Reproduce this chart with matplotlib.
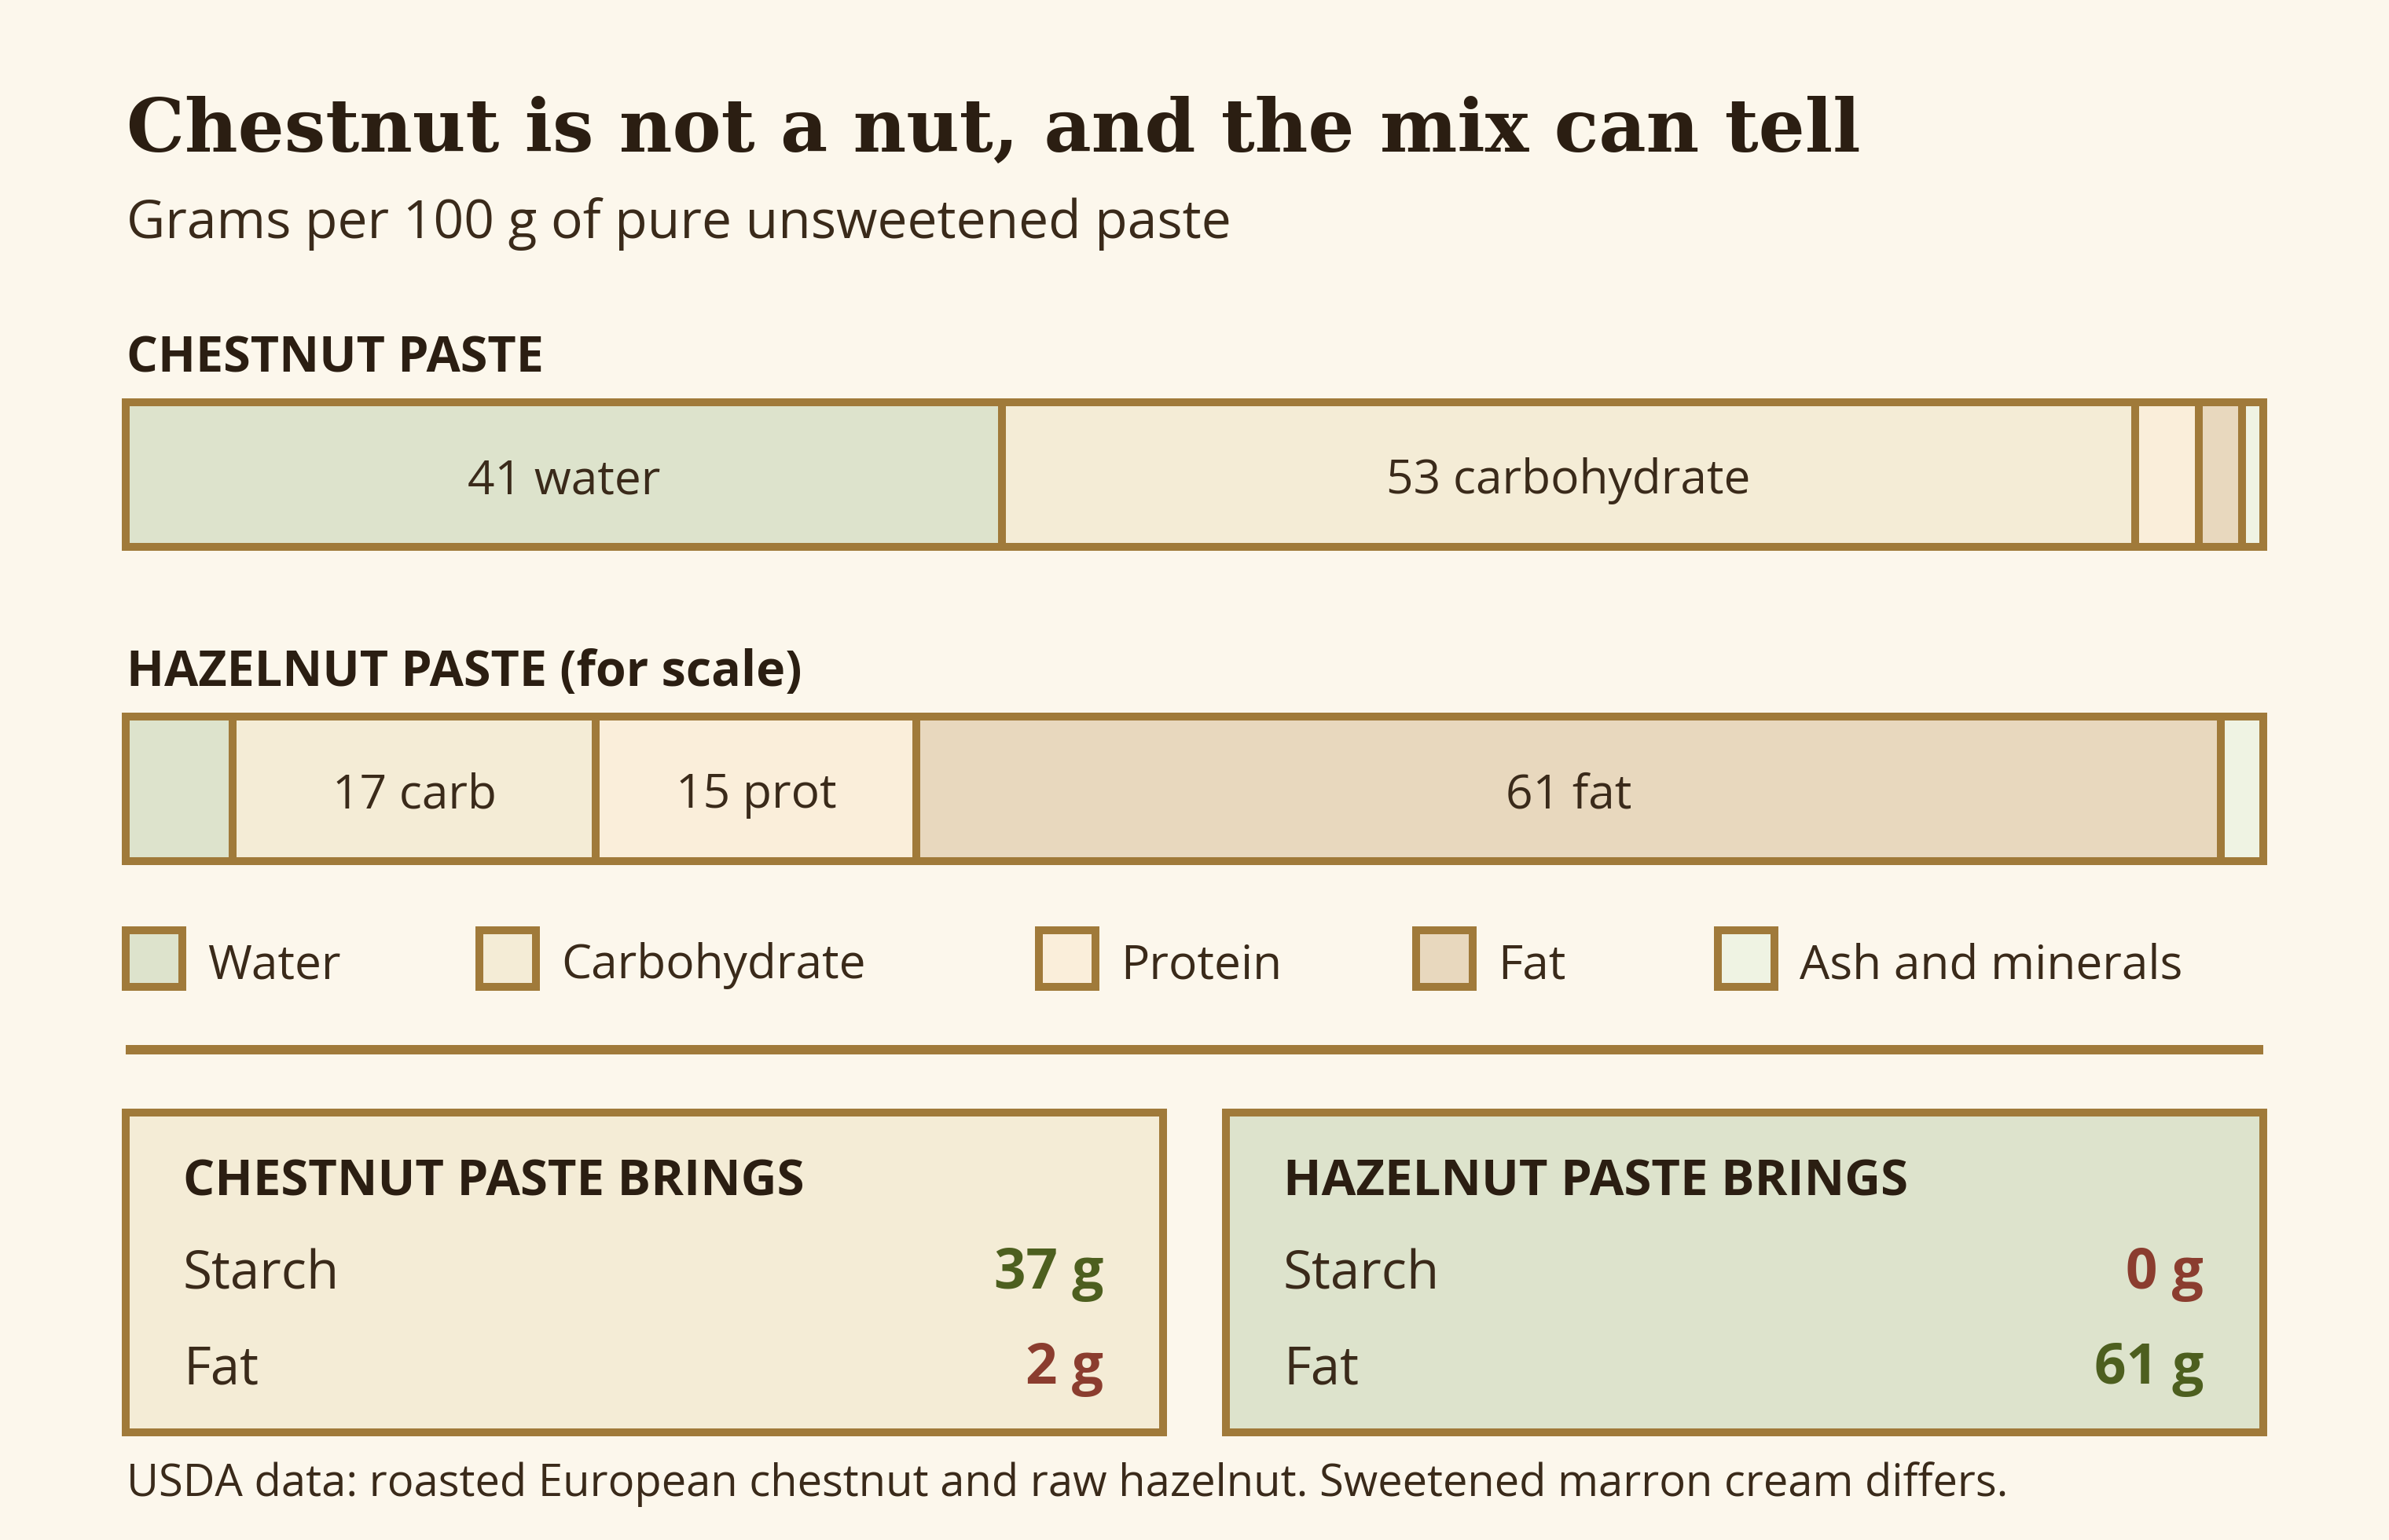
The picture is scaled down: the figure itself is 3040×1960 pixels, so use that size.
import matplotlib
matplotlib.use("Agg")
import matplotlib.pyplot as plt
from matplotlib.patches import Rectangle
import numpy as np

W, H, DPI = 3040, 1960, 200
PT = 72 / DPI  # points per pixel

# data
components = ["Water", "Carbohydrate", "Protein", "Fat", "Ash and minerals"]
chestnut = [41, 53, 3, 2, 1]
hazelnut = [5, 17, 15, 61, 2]
chestnut_names = ["water", "carbohydrate", "protein", "fat", "ash"]
hazelnut_names = ["water", "carb", "prot", "fat", "ash"]
box_rows = ["Starch", "Fat"]
chestnut_brings = [37, 2]
hazelnut_brings = [0, 61]

BG = "#FCF7EC"
EDGE = "#A07A3A"
INK = "#2B1E12"
TXT = "#3A2A1A"
GOOD = "#4D5F1F"
BAD = "#8B3D2F"
seg_colors = ["#DDE3CC", "#F4ECD6", "#FAEEDA", "#E8D8BE", "#EFF3E3"]

plt.rcParams["font.family"] = ["Open Sans", "DejaVu Sans"]

fig = plt.figure(figsize=(W / DPI, H / DPI), dpi=DPI, facecolor=BG)
ax = fig.add_axes([0, 0, 1, 1])
ax.set_xlim(0, W)
ax.set_ylim(H, 0)
ax.axis("off")

# title, fitted to the reference width
title = ax.text(161, 193, "Chestnut is not a nut, and the mix can tell",
                fontsize=40, fontweight="bold", family="DejaVu Serif",
                color=INK, va="baseline")
fig.canvas.draw()
bb = title.get_window_extent()
title.set_fontsize(40 * 2205 / bb.width)

ax.text(161, 303, "Grams per 100 g of pure unsweetened paste", fontsize=24.4,
        color=TXT, va="baseline")


def stacked_bar(y_top, values, names, header, header_y):
    ax.text(161, header_y, header, fontsize=22.6, fontweight="bold", color=INK,
            va="baseline")
    bax = fig.add_axes([160 / W, 1 - (y_top + 184) / H, 2720 / W, 184 / H])
    bax.set_xlim(0, sum(values))
    bax.set_ylim(0.5, -0.5)
    bax.axis("off")
    lefts = np.cumsum([0] + values[:-1])
    bars = bax.barh(0, values, left=lefts, height=1, color=seg_colors,
                    edgecolor=EDGE, linewidth=10 * PT)
    for b in bars:
        b.set_clip_on(False)
    for left, v, name in zip(lefts, values, names):
        if v >= 10:
            # baseline sits about a half cap-height below the bar centre
            bax.text(left + v / 2, 24 / 184, f"{v} {name}", ha="center",
                     va="baseline", fontsize=21.8, color=TXT)


stacked_bar(512, chestnut, chestnut_names, "CHESTNUT PASTE", 473)
stacked_bar(912, hazelnut, hazelnut_names, "HAZELNUT PASTE (for scale)", 873)

# legend
legend_x = [160, 610, 1322, 1802, 2186]
for x, name, c in zip(legend_x, components, seg_colors):
    ax.add_patch(Rectangle((x, 1184), 72, 72, facecolor=c, edgecolor=EDGE,
                           linewidth=10 * PT))
    ax.text(x + 104, 1245, name, fontsize=21.8, color=TXT, va="baseline")

ax.plot([160, 2880], [1336, 1336], color=EDGE, linewidth=12 * PT,
        solid_capstyle="butt")

# comparison boxes
boxes = [(160, "#F4ECD6", "CHESTNUT PASTE BRINGS", chestnut_brings),
         (1560, "#DDE3CC", "HAZELNUT PASTE BRINGS", hazelnut_brings)]
best = [max(chestnut_brings[i], hazelnut_brings[i]) for i in range(len(box_rows))]
for x0, fill, head, vals in boxes:
    ax.add_patch(Rectangle((x0, 1416), 1320, 407, facecolor=fill,
                           edgecolor=EDGE, linewidth=10 * PT))
    ax.text(x0 + 73, 1521, head, fontsize=22.8, fontweight="bold", color=INK,
            va="baseline")
    for i, (row, v) in enumerate(zip(box_rows, vals)):
        yb = 1640 + i * 121
        ax.text(x0 + 73, yb, row, fontsize=24.2, color=TXT, va="baseline")
        col = GOOD if v == best[i] else BAD
        ax.text(x0 + 1244, yb, f"{v} g", fontsize=25.5, fontweight="bold",
                color=col, ha="right", va="baseline")

ax.text(161, 1904, "USDA data: roasted European chestnut and raw hazelnut. "
        "Sweetened marron cream differs.", fontsize=20.2, color=TXT,
        va="baseline")

fig.savefig("out.png", dpi=DPI, facecolor=BG)
